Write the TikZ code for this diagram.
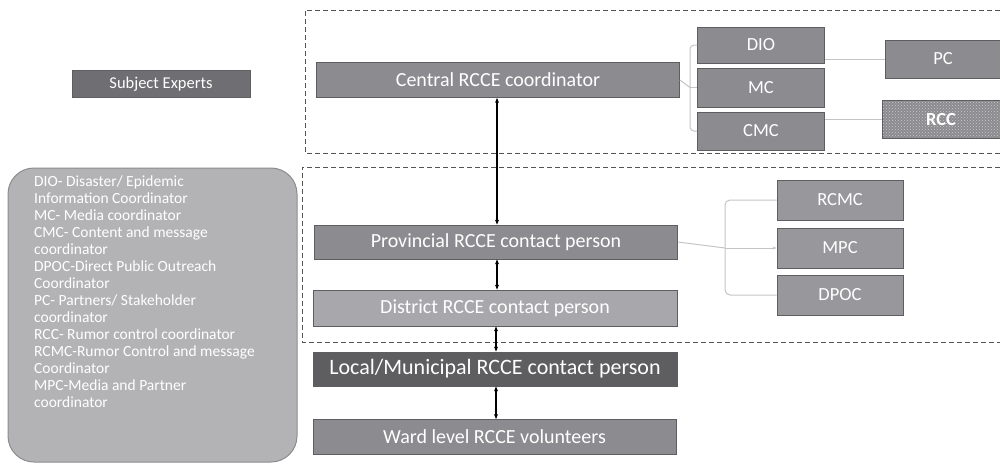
\documentclass[tikz,border=0pt]{standalone}
\usepackage{fontspec}
\setmainfont{Carlito}
\usetikzlibrary{arrows.meta,patterns}
\definecolor{boxedge}{HTML}{5E5E60}
\definecolor{subjfill}{HTML}{6F6F73}
\definecolor{midfill}{HTML}{8C8C90}
\definecolor{lightfill}{HTML}{A8A8AC}
\definecolor{darkfill}{HTML}{5E5E61}
\definecolor{subfill}{HTML}{98989C}
\definecolor{legendfill}{HTML}{B3B3B5}
\definecolor{legendedge}{HTML}{8C8C8E}
\definecolor{linkgray}{HTML}{C4C4C4}
\definecolor{dashgray}{HTML}{555555}
\definecolor{speck}{HTML}{C8C8C8}
\tikzset{
  box/.style={draw=boxedge, line width=0.8pt, text=white, inner sep=0pt,
    font=\fontsize{20}{22}\selectfont},
  smallbox/.style={box, font=\fontsize{18.5}{20}\selectfont},
  dashframe/.style={draw=dashgray, line width=1pt, dash pattern=on 5pt off 3pt},
  level/.style={line width=1.3pt, draw=black, {Stealth[length=5pt,width=4pt]}-{Stealth[length=5pt,width=4pt]}},
  link/.style={draw=linkgray, line width=1pt},
}
\begin{document}
\begin{tikzpicture}[x=1pt,y=-1pt]
\useasboundingbox (0,0) rectangle (1000,464);

% dashed frames around the central and provincial tiers
\draw[dashframe] (1000,10) -- (305,10) -- (305,153) -- (1000,153);
\draw[dashframe] (1000,167) -- (302,167) -- (302,342) -- (1000,342);

% legend of abbreviations
\draw[fill=legendfill, draw=legendedge, line width=1pt, rounded corners=26pt]
  (8,168) rectangle (297,462);
\node[anchor=north west, align=left, text=white, inner sep=0pt,
  font=\fontsize{15.5}{17}\selectfont] (legend) at (34,176) {%
DIO- Disaster/ Epidemic\\
Information Coordinator\\
MC- Media coordinator\\
CMC- Content and message\\
coordinator\\
DPOC-Direct Public Outreach\\
Coordinator\\
PC- Partners/ Stakeholder\\
coordinator\\
RCC- Rumor control coordinator\\
RCMC-Rumor Control and message\\
Coordinator\\
MPC-Media and Partner\\
coordinator};

% main chain of contact persons
\node[box, fill=subjfill, minimum width=178pt, minimum height=27pt, font=\fontsize{16.5}{18}\selectfont] (subj) at (161,84) {Subject Experts};
\node[box, fill=midfill, minimum width=363pt, minimum height=35pt] (central) at (498,80) {Central RCCE coordinator};
\node[box, fill=midfill, minimum width=363pt, minimum height=34pt] (prov) at (496,242) {Provincial RCCE contact person};
\node[box, fill=lightfill, minimum width=364pt, minimum height=36pt] (dist) at (495,308) {District RCCE contact person};
\node[box, fill=darkfill, minimum width=364pt, minimum height=34pt, font=\fontsize{22}{24}\selectfont] (local) at (495,369) {Local/Municipal RCCE contact person};
\node[box, fill=midfill, minimum width=363pt, minimum height=35pt] (ward) at (494.5,437) {Ward level RCCE volunteers};

% central-level coordinators
\node[smallbox, fill=midfill, minimum width=127pt, minimum height=36pt] (dio) at (761,45) {DIO};
\node[smallbox, fill=midfill, minimum width=127pt, minimum height=39pt] (mc) at (761,87.5) {MC};
\node[smallbox, fill=midfill, minimum width=127pt, minimum height=38pt] (cmc) at (761,131) {CMC};
\node[smallbox, fill=midfill, minimum width=116pt, minimum height=38pt] (pc) at (943,59) {PC};
\fill[midfill] (882,100) rectangle (1000,138);
\node[smallbox, pattern=crosshatch dots, pattern color=speck, minimum width=118pt, minimum height=38pt,
  font=\bfseries\fontsize{18.5}{20}\selectfont] (rcc) at (941,119) {RCC};

% provincial-level coordinators
\node[smallbox, fill=subfill, minimum width=126pt, minimum height=40pt] (rcmc) at (840,200) {RCMC};
\node[smallbox, fill=subfill, minimum width=126pt, minimum height=40pt] (mpc) at (840,248) {MPC};
\node[smallbox, fill=subfill, minimum width=126pt, minimum height=40pt] (dpoc) at (840,295) {DPOC};

% two-way links between levels
\draw[level] (central.south -| 497,0) -- (prov.north -| 497,0);
\draw[level] (prov.south -| 497,0) -- (dist.north -| 497,0);
\draw[level] (dist.south -| 496,0) -- (local.north -| 496,0);
\draw[level] (local.south -| 496,0) -- (ward.north -| 496,0);

% bracket from the central coordinator
\coordinate (cb) at (690,87.5);
\draw[link] (central.east) -- (cb);
\draw[link, rounded corners=4pt] (dio.west) -- (cb |- dio.west) -- (cb |- cmc.west) -- (cmc.west);
\draw[link] (cb) -- (mc.west);
\draw[link] (dio.east |- pc.west) -- (pc.west);
\draw[link] (cmc.east |- rcc.west) -- (rcc.west);

% bracket from the provincial contact person
\coordinate (pb) at (725,248);
\draw[link] (prov.east) -- (pb);
\draw[link, rounded corners=5pt] (rcmc.west) -- (pb |- rcmc.west) -- (pb |- dpoc.west) -- (dpoc.west);
\draw[link, -{Stealth[length=4pt,width=3pt]}] (pb) -- (mpc.west);
\end{tikzpicture}
\end{document}
